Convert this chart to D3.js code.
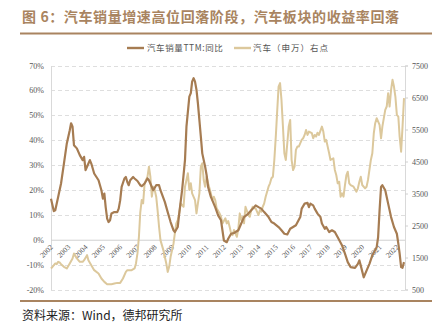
<!DOCTYPE html>
<html>
<head>
<meta charset="utf-8">
<script src="https://cdn.jsdelivr.net/npm/d3@7"></script>
<style>
  html, body { margin: 0; padding: 0; background: #fff; }
  svg { display: block; }
</style>
</head>
<body>
<svg id="chart" width="440" height="327"></svg>
<script>
// 汽车销量TTM同比 (left axis, %)
const salesMonths = ["2002-01","2002-03","2002-04","2002-06","2002-08","2002-10","2002-12","2003-02","2003-03","2003-04","2003-05","2003-07","2003-09","2003-11","2003-12","2004-01","2004-02","2004-04","2004-05","2004-07","2004-10","2004-12","2005-01","2005-02","2005-03","2005-04","2005-05","2005-06","2005-07","2005-09","2005-11","2005-12","2006-01","2006-02","2006-04","2006-05","2006-06","2006-07","2006-08","2006-10","2006-11","2007-01","2007-03","2007-04","2007-06","2007-08","2007-09","2007-12","2008-02","2008-04","2008-05","2008-08","2008-10","2008-12","2009-02","2009-03","2009-05","2009-06","2009-08","2009-10","2009-11","2010-01","2010-02","2010-03","2010-04","2010-05","2010-06","2010-07","2010-08","2010-09","2010-10","2010-12","2011-01","2011-02","2011-04","2011-07","2011-09","2011-11","2011-12","2012-01","2012-03","2012-04","2012-06","2012-08","2012-11","2013-01","2013-03","2013-06","2013-08","2013-10","2013-11","2014-01","2014-03","2014-05","2014-08","2014-10","2014-12","2015-03","2015-05","2015-07","2015-09","2015-11","2016-01","2016-03","2016-06","2016-07","2016-09","2016-11","2016-12","2017-01","2017-03","2017-04","2017-06","2017-08","2017-09","2017-11","2017-12","2018-02","2018-04","2018-06","2018-08","2018-11","2019-01","2019-03","2019-05","2019-08","2019-10","2019-11","2019-12","2020-02","2020-04","2020-06","2020-08","2020-11","2020-12","2021-01","2021-02","2021-03","2021-05","2021-07","2021-09","2021-11","2022-01","2022-02","2022-03","2022-04","2022-05","2022-06"];
const salesYoY = [16.5,11.5,11.8,17.2,22.6,30.6,38.7,44.0,46.8,45.4,38.0,36.7,34.0,32.0,33.3,28.0,29.3,32.0,30.6,26.6,23.9,19.9,16.5,18.5,13.1,8.5,7.1,7.8,10.5,11.1,11.1,12.5,15.8,21.2,24.6,25.2,23.2,21.9,23.9,25.2,24.6,23.6,21.9,21.5,22.6,24.6,23.9,19.9,21.9,21.9,19.9,15.2,11.1,7.1,3.8,3.1,5.1,10.5,19.9,32.0,45.4,57.5,58.9,63.5,64.9,63.5,60.2,54.8,48.1,41.4,34.7,29.3,25.9,21.2,17.2,13.1,9.8,7.8,3.8,-0.3,-1.0,0.4,2.4,2.7,3.8,6.5,9.1,10.5,11.8,13.1,13.8,13.1,12.5,11.1,9.1,7.1,6.5,5.1,3.8,2.4,2.1,4.4,5.1,5.8,9.1,12.5,14.5,14.8,13.1,14.5,13.8,12.5,10.5,9.1,6.5,4.4,5.1,3.1,3.8,3.1,1.0,-2.3,-5.6,-9.0,-11.0,-11.3,-9.7,-8.3,-10.4,-15.1,-12.4,-9.7,-6.3,-3.0,1.0,11.8,21.2,21.9,19.9,14.5,9.1,5.1,2.4,-1.6,-5.6,-11.0,-11.3,-9.0];

// 汽车（申万）指数 (right axis)
const indexMonths = ["2002-01","2002-02","2002-04","2002-05","2002-06","2002-07","2002-08","2002-10","2002-12","2003-02","2003-04","2003-05","2003-07","2003-09","2003-11","2003-12","2004-02","2004-03","2004-05","2004-07","2004-10","2004-12","2005-02","2005-04","2005-07","2005-09","2005-11","2006-01","2006-03","2006-05","2006-06","2006-09","2006-11","2006-12","2007-01","2007-02","2007-03","2007-04","2007-05","2007-06","2007-08","2007-09","2007-10","2007-11","2007-12","2008-01","2008-02","2008-03","2008-04","2008-05","2008-07","2008-08","2008-09","2008-10","2008-11","2008-12","2009-02","2009-03","2009-04","2009-05","2009-06","2009-07","2009-09","2009-10","2009-11","2009-12","2010-01","2010-02","2010-03","2010-05","2010-06","2010-07","2010-08","2010-09","2010-10","2010-11","2010-12","2011-01","2011-02","2011-04","2011-05","2011-06","2011-07","2011-08","2011-10","2011-11","2011-12","2012-02","2012-03","2012-04","2012-05","2012-06","2012-07","2012-08","2012-10","2012-11","2012-12","2013-01","2013-02","2013-03","2013-04","2013-06","2013-07","2013-08","2013-09","2013-10","2013-11","2014-01","2014-02","2014-03","2014-04","2014-05","2014-06","2014-08","2014-09","2014-10","2014-11","2014-12","2015-01","2015-02","2015-03","2015-04","2015-05","2015-06","2015-07","2015-08","2015-09","2015-10","2015-11","2015-12","2016-01","2016-02","2016-03","2016-04","2016-05","2016-07","2016-08","2016-09","2016-10","2016-11","2016-12","2017-02","2017-03","2017-04","2017-05","2017-06","2017-07","2017-09","2017-10","2017-11","2017-12","2018-01","2018-02","2018-03","2018-05","2018-06","2018-07","2018-08","2018-09","2018-10","2018-11","2018-12","2019-01","2019-02","2019-03","2019-04","2019-05","2019-07","2019-09","2019-10","2019-11","2019-12","2020-01","2020-03","2020-04","2020-05","2020-07","2020-08","2020-09","2020-10","2020-11","2021-01","2021-02","2021-03","2021-05","2021-06","2021-07","2021-08","2021-09","2021-10","2021-11","2021-12","2022-01","2022-02","2022-03","2022-04","2022-05","2022-06"];
const indexClose = [1157,1208,1314,1292,1364,1345,1292,1208,1157,1314,1470,1627,1470,1364,1364,1417,1574,1417,1261,1104,1001,844,738,666,666,688,707,707,844,1051,1104,1104,1157,1314,1627,2147,2900,3296,3192,3818,4025,4338,4025,3400,3712,3609,3400,2983,2460,2043,1730,1521,1314,1051,1208,1521,1940,2253,2566,2670,2879,3192,3086,3712,3922,4132,3609,3818,3505,3296,2879,3192,3505,4338,4444,3922,3712,4025,3818,3505,3296,3400,3296,3036,2879,2773,2566,2723,2566,2640,2460,2253,2200,2357,2147,2410,2879,2670,2773,2566,3086,2826,2773,2983,3086,3036,3036,2826,2983,2930,3086,3192,3400,3712,3818,3975,4025,4548,5278,6113,6843,6950,6427,5591,4758,4548,5070,5591,5800,4548,4235,4338,4861,4965,4965,5174,5226,5330,5487,5330,5435,5383,5226,5330,5278,5400,5330,5591,5435,5122,5174,4965,4758,4548,4601,4235,4078,3818,3869,3400,3505,3400,3765,4078,4182,3818,3765,3712,3556,3662,3869,4025,3765,3662,3712,3922,4548,4758,5383,5696,5853,5644,5226,5591,6113,6218,6636,6218,6740,7053,6843,6530,5957,5905,5278,4808,5591,6479];

const yearTicks = d3.range(2002, 2023);
const leftTicks = [-20, -10, 0, 10, 20, 30, 40, 50, 60, 70];
const rightTicks = [500, 1500, 2500, 3500, 4500, 5500, 6500, 7500];

const titleText = "图 6：汽车销量增速高位回落阶段，汽车板块的收益率回落";
const sourceText = "资料来源：Wind，德邦研究所";
const legendSales = "汽车销量TTM:同比";
const legendIndex = "汽车（申万）右点";

const BROWN = "#a67c52";
const GOLD = "#dcc89c";
const ACCENT = "#a98460";
const CJK = "'Noto Sans CJK SC', sans-serif";
const SERIF = "'Liberation Serif', 'DejaVu Serif', serif";

const parseMonth = d3.timeParse("%Y-%m");
const sales = salesMonths.map((m, i) => ({ date: parseMonth(m), value: salesYoY[i] }));
const index = indexMonths.map((m, i) => ({ date: parseMonth(m), value: indexClose[i] }));

const svg = d3.select("#chart");
const plotLeft = 51, plotRight = 405, plotTop = 65.5, plotBottom = 289.5;

const x = d3.scaleTime()
  .domain([parseMonth("2002-01"), parseMonth("2022-06")])
  .range([plotLeft, 404]);
const yL = d3.scaleLinear().domain([-20, 70]).range([plotBottom, plotTop]);
const yR = d3.scaleLinear().domain([500, 7500]).range([plotBottom, plotTop]);

svg.append("rect").attr("width", 440).attr("height", 327).attr("fill", "#fff");

// title and rules
svg.append("text")
  .attr("x", 22).attr("y", 22)
  .attr("font-family", CJK).attr("font-size", 14).attr("font-weight", 700)
  .attr("letter-spacing", 0.6)
  .attr("fill", ACCENT)
  .text(titleText);
svg.append("line").attr("x1", 20).attr("x2", 432).attr("y1", 33.5).attr("y2", 33.5)
  .attr("stroke", ACCENT).attr("stroke-width", 2.2);
svg.append("line").attr("x1", 20).attr("x2", 432).attr("y1", 301).attr("y2", 301)
  .attr("stroke", ACCENT).attr("stroke-width", 2.2);
svg.append("text")
  .attr("x", 22).attr("y", 320)
  .attr("font-family", CJK).attr("font-size", 12)
  .attr("fill", "#222")
  .text(sourceText);

// dashed gridlines
svg.append("g").selectAll("line")
  .data(leftTicks.filter(d => d !== 0))
  .join("line")
  .attr("x1", plotLeft).attr("x2", plotRight)
  .attr("y1", d => Math.round(yL(d)) + 0.5).attr("y2", d => Math.round(yL(d)) + 0.5)
  .attr("stroke", "#d6d6d6").attr("stroke-width", 0.8)
  .attr("stroke-dasharray", "4,3");

// left axis
const leftAxis = d3.axisLeft(yL).tickValues(leftTicks).tickSize(0).tickPadding(7)
  .tickFormat(d => d + "%");
const gL = svg.append("g").attr("transform", `translate(${plotLeft},0)`).call(leftAxis);
gL.select(".domain").attr("stroke", "#d9d9d9");
gL.selectAll("text").attr("font-family", SERIF).attr("font-size", 8).attr("fill", "#555");

// right axis
const rightAxis = d3.axisRight(yR).tickValues(rightTicks).tickSize(3).tickPadding(4)
  .tickFormat(d3.format("d"));
const gR = svg.append("g").attr("transform", `translate(${plotRight},0)`).call(rightAxis);
gR.select(".domain").attr("stroke", "#d9d9d9");
gR.selectAll("line").attr("stroke", "#d0d0d0");
gR.selectAll("text").attr("font-family", SERIF).attr("font-size", 8).attr("fill", "#555");

// time axis along the 0% line
const xAxis = d3.axisBottom(x)
  .tickValues(yearTicks.map(yv => new Date(yv, 0, 1)))
  .tickSize(0).tickPadding(0)
  .tickFormat(d3.timeFormat("%Y"));
const gX = svg.append("g").attr("transform", `translate(0,${yL(0)})`).call(xAxis);
gX.select(".domain").attr("stroke", "#d0d0d0").attr("d", `M${plotLeft},0.5H${plotRight}`);
gX.selectAll("text")
  .attr("font-family", SERIF).attr("font-size", 7.5).attr("fill", "#555")
  .attr("text-anchor", "end")
  .attr("dy", 0)
  .attr("transform", "translate(2,8) rotate(-45)");

// series
const lineL = d3.line().x(d => x(d.date)).y(d => yL(d.value)).curve(d3.curveLinear);
const lineR = d3.line().x(d => x(d.date)).y(d => yR(d.value)).curve(d3.curveLinear);

svg.append("path").datum(index)
  .attr("d", lineR).attr("fill", "none")
  .attr("stroke", GOLD).attr("stroke-width", 2).attr("stroke-linejoin", "round");
svg.append("path").datum(sales)
  .attr("d", lineL).attr("fill", "none")
  .attr("stroke", BROWN).attr("stroke-width", 2.2).attr("stroke-linejoin", "round");

// legend
const legend = svg.append("g").attr("font-family", CJK).attr("font-size", 8.5).attr("fill", "#555");
legend.append("line").attr("x1", 127).attr("x2", 144).attr("y1", 48).attr("y2", 48)
  .attr("stroke", BROWN).attr("stroke-width", 2.4);
legend.append("text").attr("x", 147).attr("y", 51).attr("letter-spacing", 0.6).text(legendSales);
legend.append("line").attr("x1", 234).attr("x2", 251).attr("y1", 48).attr("y2", 48)
  .attr("stroke", GOLD).attr("stroke-width", 2.4);
legend.append("text").attr("x", 253).attr("y", 51).attr("letter-spacing", 1).text(legendIndex);
</script>
</body>
</html>
